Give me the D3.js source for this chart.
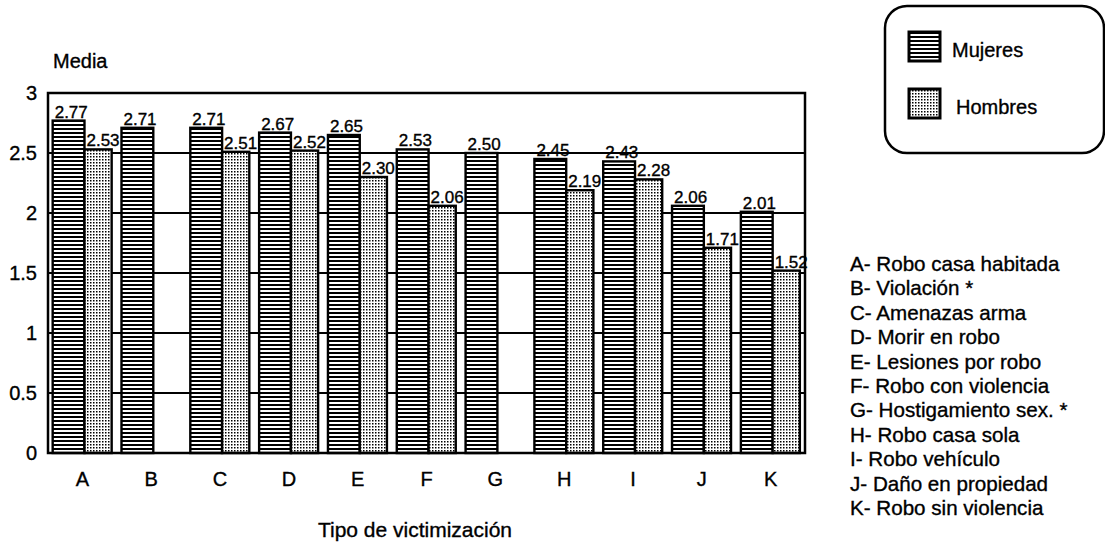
<!DOCTYPE html>
<html><head><meta charset="utf-8">
<script src="https://cdn.jsdelivr.net/npm/d3@7"></script>
<style>
html,body{margin:0;padding:0;background:#fff;}
text{font-family:"Liberation Sans",Arial,sans-serif;fill:#000;stroke:#000;stroke-width:0.35px;}
</style></head>
<body>
<svg id="chart" width="1105" height="545"></svg>
<script>
const categories = ["A","B","C","D","E","F","G","H","I","J","K"];
const mujeres = [2.77,2.71,2.71,2.67,2.65,2.53,2.50,2.45,2.43,2.06,2.01];
const hombres = [2.53,null,2.51,2.52,2.30,2.06,null,2.19,2.28,1.71,1.52];
const yTicks = [0,0.5,1,1.5,2,2.5,3];
const yTickLabels = ["0","0.5","1","1.5","2","2.5","3"];
const seriesNames = ["Mujeres","Hombres"];
const categoryDescriptions = [
  "A- Robo casa habitada","B- Violación *","C- Amenazas arma","D- Morir en robo",
  "E- Lesiones por robo","F- Robo con violencia","G- Hostigamiento sex. *",
  "H- Robo casa sola","I- Robo vehículo","J- Daño en propiedad","K- Robo sin violencia"
];
const yLabel = "Media";
const xLabel = "Tipo de victimización";

const svg = d3.select("#chart");
const defs = svg.append("defs");
const p1 = defs.append("pattern").attr("id","pH").attr("patternUnits","userSpaceOnUse")
  .attr("width",4).attr("height",4);
p1.append("rect").attr("width",4).attr("height",4).attr("fill","#fff");
p1.append("rect").attr("width",4).attr("height",2).attr("fill","#000");
const p2 = defs.append("pattern").attr("id","pD").attr("patternUnits","userSpaceOnUse")
  .attr("width",3).attr("height",3);
p2.append("rect").attr("width",3).attr("height",3).attr("fill","#fff");
p2.append("rect").attr("width",1.5).attr("height",1.5).attr("fill","#000");

const L = 48, R = 805, T = 93, B = 453;
const x = d3.scaleBand().domain(categories).range([L,R]).paddingInner(0).paddingOuter(0);
const y = d3.scaleLinear().domain([0,3]).range([B,T]);
const bw = x.bandwidth();

svg.append("g").selectAll("line").data(yTicks).join("line")
  .attr("x1",L).attr("x2",R).attr("y1",d=>y(d)).attr("y2",d=>y(d))
  .attr("stroke","#000").attr("stroke-width",2);

svg.append("g").selectAll("text").data(yTicks).join("text")
  .attr("x",37).attr("y",d=>y(d)).attr("dy","0.36em").attr("text-anchor","end")
  .attr("font-size",20).text((d,i)=>yTickLabels[i]);

const series = [
  {vals:mujeres, fill:"url(#pH)", f0:0.068, f1:0.53},
  {vals:hombres, fill:"url(#pD)", f0:0.53, f1:0.925}
];
series.forEach(s=>{
  const g = svg.append("g");
  const data = categories.map((c,i)=>({c, v:s.vals[i]})).filter(d=>d.v!=null);
  g.selectAll("rect").data(data).join("rect")
    .attr("x",d=>x(d.c)+bw*s.f0).attr("width",bw*(s.f1-s.f0))
    .attr("y",d=>y(d.v)).attr("height",d=>y(0)-y(d.v))
    .attr("fill",s.fill).attr("stroke","#000").attr("stroke-width",2.4);
  g.selectAll("text").data(data).join("text")
    .attr("x",d=>x(d.c)+bw*s.f0+2).attr("y",d=>y(d.v)-3)
    .attr("font-size",17).text(d=>d.v.toFixed(2));
});

svg.append("rect").attr("x",L).attr("y",T).attr("width",R-L).attr("height",B-T)
  .attr("fill","none").attr("stroke","#000").attr("stroke-width",2.5);

svg.append("g").selectAll("text").data(categories).join("text")
  .attr("x",d=>x(d)+bw/2).attr("y",486).attr("text-anchor","middle")
  .attr("font-size",20).text(d=>d);

svg.append("text").attr("x",53).attr("y",68).attr("font-size",20).text(yLabel);
svg.append("text").attr("x",415).attr("y",537).attr("text-anchor","middle")
  .attr("font-size",21).text(xLabel);

svg.append("rect").attr("x",885).attr("y",6).attr("width",219).attr("height",147)
  .attr("rx",22).attr("ry",22).attr("fill","#fff").attr("stroke","#000").attr("stroke-width",2.5);
const legY = [31,88];
const legFill = ["url(#pH)","url(#pD)"];
const legTextX = [952,956];
const legTextY = [57,114];
seriesNames.forEach((n,i)=>{
  svg.append("rect").attr("x",909).attr("y",legY[i]+1).attr("width",31).attr("height",29)
    .attr("fill",legFill[i]).attr("stroke","#000").attr("stroke-width",3);
  svg.append("text").attr("x",legTextX[i]).attr("y",legTextY[i]).attr("font-size",20).text(n);
});

svg.append("g").selectAll("text").data(categoryDescriptions).join("text")
  .attr("x",850).attr("y",(d,i)=>271+24.4*i).attr("font-size",20.6).text(d=>d);
</script>
</body></html>
